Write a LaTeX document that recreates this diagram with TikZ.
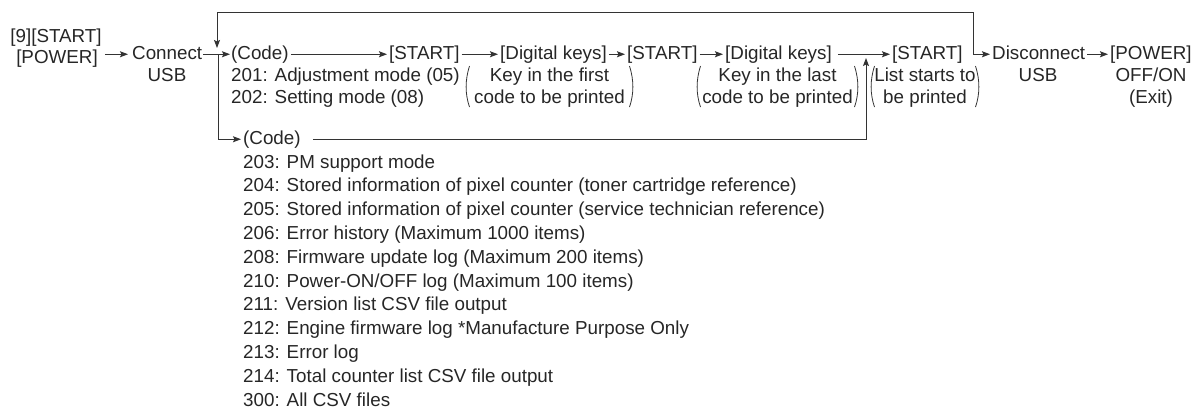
\documentclass[tikz,border=0pt]{standalone}
\usepackage{fontspec}
\setmainfont{Liberation Sans}
\usetikzlibrary{arrows.meta}
\begin{document}
\begin{tikzpicture}[x=1pt,y=-1pt,
  every node/.style={inner sep=0pt, font=\fontsize{18.8}{21.5}\selectfont, text=black!85},
  mrow/.style={anchor=base west, text height=13.5pt, text depth=4pt},
  lft/.style={anchor=base west},
  ctr/.style={anchor=base},
  ln/.style={draw=black!80, line width=0.9pt},
  arr/.style={ln, -{Stealth[length=8pt,width=6pt,inset=1.5pt]}},
  paren/.style={draw=black!80, line width=0.8pt}]
\useasboundingbox (0,0) rectangle (1195,408);

% left start
\node[ctr] (p9a) at (56,42) {[9][START]};
\node[ctr] (p9b) at (57,63.5) {[POWER]};
\node[mrow] (connect) at (132,59) {Connect};
\node[ctr] (usb1) at (167,81) {USB};

% main row
\node[mrow] (code1) at (231,59) {(Code)};
\node[lft] (l201) at (231,81) {201: Adjustment mode (05)};
\node[lft] (l202) at (231,103) {202: Setting mode (08)};
\node[mrow] (st1) at (389,59) {[START]};
\node[mrow] (dk1) at (500,59) {[Digital keys]};
\node[ctr] (k1a) at (549.5,81) {Key in the first};
\node[ctr] (k1b) at (549.5,103) {code to be printed};
\node[mrow] (st2) at (627,59) {[START]};
\node[mrow] (dk2) at (725,59) {[Digital keys]};
\node[ctr] (k2a) at (777.5,81) {Key in the last};
\node[ctr] (k2b) at (777.5,103) {code to be printed};
\node[mrow] (st3) at (892,59) {[START]};
\node[ctr] (k3a) at (925,81) {List starts to};
\node[ctr] (k3b) at (925,103) {be printed};
\node[mrow] (disc) at (992,59) {Disconnect};
\node[ctr] (usb2) at (1038,81) {USB};
\node[mrow] (pw) at (1110,59) {[POWER]};
\node[ctr] (offon) at (1151,81) {OFF/ON};
\node[ctr] (exit) at (1151,103) {(Exit)};

% second list
\node[mrow] (code2) at (243,144) {(Code)};
\node[lft] (l203) at (243,168) {203: PM support mode};
\node[lft] (l204) at (243,191.8) {204: Stored information of pixel counter (toner cartridge reference)};
\node[lft] (l205) at (243,215.6) {205: Stored information of pixel counter (service technician reference)};
\node[lft] (l206) at (243,239.4) {206: Error history (Maximum 1000 items)};
\node[lft] (l208) at (243,263.2) {208: Firmware update log (Maximum 200 items)};
\node[lft] (l210) at (243,287) {210: Power-ON/OFF log (Maximum 100 items)};
\node[lft] (l211) at (243,310.8) {211: Version list CSV file output};
\node[lft] (l212) at (243,334.6) {212: Engine firmware log *Manufacture Purpose Only};
\node[lft] (l213) at (243,358.4) {213: Error log};
\node[lft] (l214) at (243,382.2) {214: Total counter list CSV file output};
\node[lft] (l300) at (243,406) {300: All CSV files};

% parentheses
\newcommand\lpr[1]{\draw[paren] (#1+3.5,66) .. controls (#1-1,80) and (#1-1,94) .. (#1+3.5,107);}
\newcommand\rpr[1]{\draw[paren] (#1-3.5,66) .. controls (#1+1,80) and (#1+1,94) .. (#1-3.5,107);}
\lpr{466} \rpr{633}
\lpr{697} \rpr{858}
\lpr{871} \rpr{979}

% helper coordinates
\coordinate (brL) at (218,54.25);
\coordinate (loopL) at (217,48);
\coordinate (loopR) at (973,54.25);
\coordinate (topR) at (973,12);
\coordinate (upT) at (866,58);

% connectors
\draw[arr, shorten <=3pt, shorten >=4pt] (p9a.east |- connect.west) -- (connect.west);
\draw[arr, shorten <=1pt, shorten >=1pt] (connect.east) -- (code1.west);
\draw[arr, shorten <=2pt, shorten >=2pt] (code1.east) -- (st1.west);
\draw[arr, shorten <=2pt, shorten >=2pt] (st1.east) -- (dk1.west);
\draw[arr, shorten <=2pt, shorten >=2pt] (dk1.east) -- (st2.west);
\draw[arr, shorten <=2pt, shorten >=2pt] (st2.east) -- (dk2.west);
\draw[arr, shorten <=6pt, shorten >=2pt] (dk2.east) -- (st3.west);
\draw[arr, shorten >=2pt] (loopR) -- (disc.west);
\draw[arr, shorten <=2pt, shorten >=2pt] (disc.east) -- (pw.west);
\draw[arr] (loopR) -- (topR) -| (loopL);
\draw[arr, shorten >=2pt] (brL) |- (code2.west);
\draw[arr] ([xshift=12pt]code2.east) -| (upT);
\end{tikzpicture}
\end{document}
